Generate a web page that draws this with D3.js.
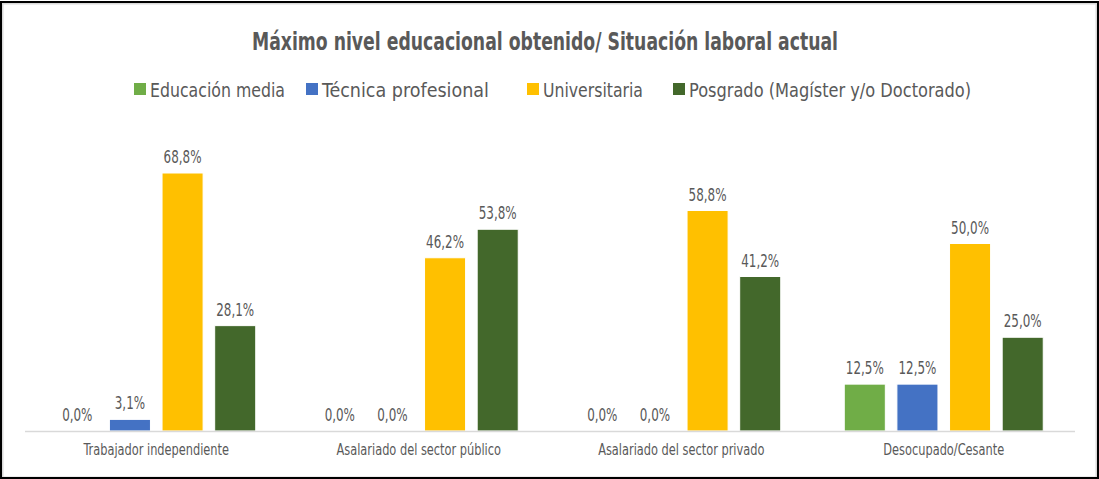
<!DOCTYPE html>
<html>
<head>
<meta charset="utf-8">
<script src="https://cdn.jsdelivr.net/npm/d3@7"></script>
<style>
  html, body { margin: 0; padding: 0; background: #fff; }
  svg { display: block; }
  text { font-family: "DejaVu Sans Condensed", "Liberation Sans Narrow", sans-serif; fill: #595959; }
</style>
</head>
<body>
<svg id="chart" width="1099" height="479"></svg>
<script>
// Data
const categories = [
  "Trabajador independiente",
  "Asalariado del sector público",
  "Asalariado del sector privado",
  "Desocupado/Cesante"
];
const seriesNames = [
  "Educación media",
  "Técnica profesional",
  "Universitaria",
  "Posgrado (Magíster y/o Doctorado)"
];
const educacionMedia     = [0.0, 0.0, 0.0, 12.5];
const tecnicaProfesional = [3.1, 0.0, 0.0, 12.5];
const universitaria      = [68.8, 46.2, 58.8, 50.0];
const posgrado           = [28.1, 53.8, 41.2, 25.0];
const seriesColors = ["#70AD47", "#4472C4", "#FFC000", "#43682B"];
const titleText = "Máximo nivel educacional obtenido/ Situación laboral actual";

const seriesValues = [educacionMedia, tecnicaProfesional, universitaria, posgrado];

const svg = d3.select("#chart");
const W = 1099, H = 479;

// Squeeze text horizontally for a narrow, tall look
function condense(sel, factor) {
  sel.each(function () {
    const w = this.getComputedTextLength();
    d3.select(this).attr("textLength", w * factor).attr("lengthAdjust", "spacingAndGlyphs");
  });
}

// Frame
svg.append("rect").attr("x", 0).attr("y", 0).attr("width", W).attr("height", H).attr("fill", "#fff");
svg.append("rect")
  .attr("x", 2.5).attr("y", 3.5).attr("width", W - 5).attr("height", H - 5)
  .attr("fill", "none").attr("stroke", "#D9D9D9").attr("stroke-width", 2);
svg.append("rect")
  .attr("x", 1).attr("y", 2).attr("width", W - 2).attr("height", H - 3)
  .attr("fill", "none").attr("stroke", "#000").attr("stroke-width", 2);

// Title
svg.append("text")
  .attr("x", 545).attr("y", 50)
  .attr("text-anchor", "middle")
  .attr("font-size", 24).attr("font-weight", "bold")
  .attr("textLength", 586).attr("lengthAdjust", "spacingAndGlyphs")
  .text(titleText);

// Legend
const legendX = [134, 306, 527, 673];
const legendW = [135, 167, 100, 282];
const legend = svg.append("g");
seriesNames.forEach((name, i) => {
  legend.append("rect")
    .attr("x", legendX[i]).attr("y", 83).attr("width", 12).attr("height", 12)
    .attr("fill", seriesColors[i]);
  legend.append("text")
    .attr("x", legendX[i] + 16).attr("y", 97)
    .attr("font-size", 20)
    .attr("textLength", legendW[i]).attr("lengthAdjust", "spacingAndGlyphs")
    .text(name);
});

// Scales
const plot = { left: 25, right: 1075, top: 131, bottom: 431 };
const x0 = d3.scaleBand().domain(categories).range([plot.left, plot.right]).paddingInner(0.242).paddingOuter(0.121);
const x1 = d3.scaleBand().domain(d3.range(seriesNames.length)).range([0, x0.bandwidth()]).paddingInner(0.22).paddingOuter(0);
const y = d3.scaleLinear().domain([0, 80]).range([plot.bottom, plot.top]);

// Bars and value labels
const groups = svg.append("g").selectAll("g")
  .data(categories)
  .join("g")
  .attr("transform", d => `translate(${x0(d)},0)`);

const fmt = v => v.toFixed(1).replace(".", ",") + "%";

groups.each(function (cat, ci) {
  const g = d3.select(this);
  seriesValues.forEach((vals, si) => {
    const v = vals[ci];
    if (v > 0) {
      g.append("rect")
        .attr("x", x1(si)).attr("width", x1.bandwidth())
        .attr("y", y(v)).attr("height", y(0) - y(v))
        .attr("fill", seriesColors[si])
        .attr("stroke", "#fff").attr("stroke-width", 1);
    }
    g.append("text")
      .attr("class", "value-label")
      .attr("x", x1(si) + x1.bandwidth() / 2)
      .attr("y", y(v) - 10)
      .attr("text-anchor", "middle")
      .attr("font-size", 17)
      .text(fmt(v));
  });
});
condense(svg.selectAll(".value-label"), 0.78);

// Category axis
const axis = svg.append("g")
  .attr("transform", `translate(0,${plot.bottom})`)
  .call(d3.axisBottom(x0).tickSize(0).tickPadding(13));
axis.select(".domain").attr("stroke", "#D9D9D9").attr("stroke-width", 1.5)
  .attr("d", `M${plot.left},0.5H${plot.right}`);
axis.selectAll(".tick text")
  .attr("font-size", 16)
  .attr("fill", "#595959")
  .style("font-family", "'DejaVu Sans Condensed', 'Liberation Sans Narrow', sans-serif");
condense(axis.selectAll(".tick text"), 0.79);
</script>
</body>
</html>
